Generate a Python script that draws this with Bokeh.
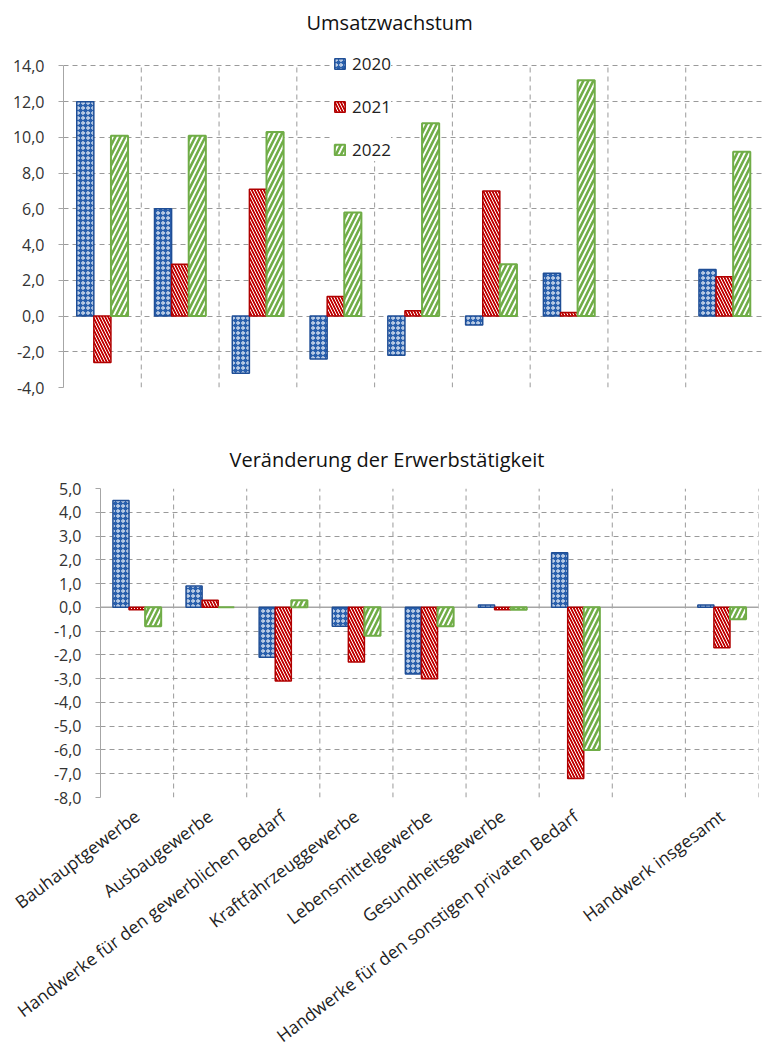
import math
from bokeh.plotting import figure
from bokeh.models import (ColumnDataSource, FixedTicker, Span, Legend, LegendItem,
                          CustomJSTickFormatter, Range1d)
from bokeh.layouts import column
from bokeh.transform import dodge
from bokeh.embed import file_html
from bokeh.resources import INLINE

# ---------------- data ----------------
categories = ["Bauhauptgewerbe", "Ausbaugewerbe", "Handwerke für den gewerblichen Bedarf",
              "Kraftfahrzeuggewerbe", "Lebensmittelgewerbe", "Gesundheitsgewerbe",
              "Handwerke für den sonstigen privaten Bedarf", "", "Handwerk insgesamt"]
years = ["2020", "2021", "2022"]

umsatz_2020 = [12.0, 6.0, -3.2, -2.4, -2.2, -0.5, 2.4, None, 2.6]
umsatz_2021 = [-2.6, 2.9, 7.1, 1.1, 0.3, 7.0, 0.2, None, 2.2]
umsatz_2022 = [10.1, 10.1, 10.3, 5.8, 10.8, 2.9, 13.2, None, 9.2]

erwerb_2020 = [4.5, 0.9, -2.1, -0.8, -2.8, 0.1, 2.3, None, 0.1]
erwerb_2021 = [-0.1, 0.3, -3.1, -2.3, -3.0, -0.1, -7.2, None, -1.7]
erwerb_2022 = [-0.8, 0.0, 0.3, -1.2, -0.8, -0.1, -6.0, None, -0.5]

umsatz_ticks = [-4, -2, 0, 2, 4, 6, 8, 10, 12, 14]
erwerb_ticks = [-8, -7, -6, -5, -4, -3, -2, -1, 0, 1, 2, 3, 4, 5]

title_top = "Umsatzwachstum"
title_bottom = "Veränderung der Erwerbstätigkeit"

# ---------------- styles ----------------
FONT = "Open Sans"
GRID = "#9a9a9a"
AXIS = "#a6a6a6"
styles = {
    "2020": dict(fill_color="#2A60AD", line_color="#1F4E96", line_width=1.5,
                 hatch_pattern="ring", hatch_color="white", hatch_scale=5, hatch_weight=1),
    "2021": dict(fill_color="#C00000", line_color="#B00000", line_width=1.5,
                 hatch_pattern="left_diagonal_line", hatch_color="white", hatch_scale=6, hatch_weight=1.0),
    "2022": dict(fill_color="white", line_color="#70AD47", line_width=2,
                 hatch_pattern="right_diagonal_line", hatch_color="#70AD47", hatch_scale=10, hatch_weight=2.6),
}
offsets = {"2020": -0.22, "2021": 0.0, "2022": 0.22}
BAR_W = 0.22

fmt = CustomJSTickFormatter(code="return tick.toFixed(1).replace('.', ',');")


def build(series, ticks, ylo, yhi, width, height, left, right, top, bottom,
          title, title_offset, title_standoff, grid_x):
    p = figure(width=width, height=height, output_backend="svg", toolbar_location=None,
               x_range=Range1d(0, len(categories)), y_range=Range1d(ylo, yhi),
               min_border_left=left, min_border_right=right,
               min_border_top=top, min_border_bottom=bottom)
    p.frame_align = False
    p.outline_line_color = None
    p.title.text = title
    p.title.text_font = FONT
    p.title.text_font_size = "20px"
    p.title.text_font_style = "normal"
    p.title.text_color = "#111111"
    p.title.align = "left"
    p.title.offset = title_offset
    p.title.standoff = title_standoff

    # vertical category separators (dashed), spanning the tick range only
    p.segment(x0=grid_x, x1=grid_x, y0=[ticks[0]] * len(grid_x), y1=[ticks[-1]] * len(grid_x),
              line_color=GRID, line_dash="5 4", line_width=1, level="underlay")

    renderers = {}
    for yr, vals in zip(years, series):
        xs = [i + 0.5 for i, v in enumerate(vals) if v is not None]
        tops = [v for v in vals if v is not None]
        src = ColumnDataSource(dict(x=xs, top=tops))
        r = p.vbar(x=dodge("x", offsets[yr]), top="top", bottom=0, width=BAR_W,
                   source=src, **styles[yr])
        renderers[yr] = r

    p.yaxis.ticker = FixedTicker(ticks=ticks)
    p.yaxis.bounds = (ticks[0], ticks[-1])
    p.yaxis.formatter = fmt
    p.yaxis.axis_line_color = AXIS
    p.yaxis.major_tick_line_color = AXIS
    p.yaxis.major_tick_out = 5
    p.yaxis.major_tick_in = 0
    p.yaxis.minor_tick_line_color = None
    p.yaxis.major_label_standoff = 14
    p.yaxis.major_label_text_font = FONT
    p.yaxis.major_label_text_font_size = "16px"
    p.yaxis.major_label_text_color = "#333333"

    p.ygrid.ticker = FixedTicker(ticks=ticks)
    p.ygrid.grid_line_color = GRID
    p.ygrid.grid_line_dash = "5 4"
    p.ygrid.grid_line_width = 1
    p.xgrid.visible = False
    return p, renderers


# ---------------- top chart ----------------
p1, r1 = build([umsatz_2020, umsatz_2021, umsatz_2022], umsatz_ticks, -4, 15.37,
               764, 428, 63, 1, 41, 41, title_top, 243, 12,
               list(range(1, len(categories))))
p1.xaxis.visible = False

legend = Legend(items=[LegendItem(label=yr, renderers=[r1[yr]]) for yr in years],
                location=(270, 226), orientation="vertical",
                glyph_width=13, glyph_height=13, label_standoff=6, spacing=20,
                padding=8, margin=0, border_line_color=None,
                background_fill_color="white", background_fill_alpha=1.0,
                label_text_font=FONT, label_text_font_size="17px",
                label_height=20, label_text_color="#222222")
p1.add_layout(legend, "center")

# ---------------- bottom chart ----------------
p2, r2 = build([erwerb_2020, erwerb_2021, erwerb_2022], erwerb_ticks, -8, 5,
               764, 631, 100, 6, 60, 261, title_bottom, 129, 31,
               list(range(1, len(categories) + 1)))

zero = Span(location=0, dimension="width", line_color=AXIS, line_width=1.5, level="underlay")
p2.add_layout(zero)

p2.xaxis.ticker = FixedTicker(ticks=[i + 0.5 for i, c in enumerate(categories) if c])
p2.xaxis.formatter = CustomJSTickFormatter(args=dict(labels=categories),
                                           code="return labels[Math.floor(tick)];")
p2.xaxis.major_label_orientation = math.radians(37)
p2.xaxis.axis_line_color = None
p2.xaxis.major_tick_line_color = None
p2.xaxis.minor_tick_line_color = None
p2.xaxis.major_label_standoff = 10
p2.xaxis.major_label_text_font = FONT
p2.xaxis.major_label_text_font_size = "17.5px"
p2.xaxis.major_label_text_color = "#222222"

layout = column(p1, p2, spacing=0)
open("out.html", "w").write(file_html(layout, INLINE))
